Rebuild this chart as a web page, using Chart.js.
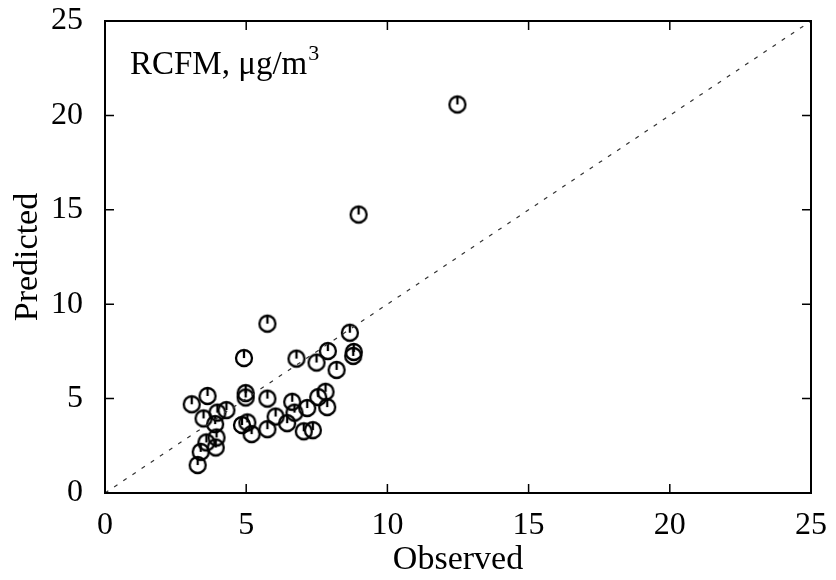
<!DOCTYPE html>
<html>
<head>
<meta charset="utf-8">
<script src="https://cdn.jsdelivr.net/npm/chart.js@4/dist/chart.umd.min.js"></script>
<style>
  html, body { margin: 0; padding: 0; background: #fff; }
  #wrap { width: 836px; height: 580px; }
</style>
</head>
<body>
<div id="wrap"><canvas id="scatter" width="836" height="580"></canvas></div>
<script>
// observed vs predicted values
const observed = [3.07, 3.63, 3.49, 3.98, 4.30, 3.90, 3.95, 3.92, 3.59, 3.39, 3.28,
    4.98, 4.98, 4.85, 5.04, 5.19, 5.75, 6.63, 7.16, 7.55, 7.81, 7.87, 5.75, 6.04,
    6.45, 6.71, 7.04, 7.36, 8.67, 8.81, 8.79, 7.89, 7.49, 8.20, 6.78, 5.75, 4.92,
    12.48, 8.98];
const predicted = [4.70, 5.14, 3.95, 4.26, 4.39, 3.65, 2.94, 2.41, 2.68, 2.18, 1.48,
    5.29, 5.06, 3.60, 3.74, 3.12, 5.00, 4.83, 4.50, 5.08, 5.36, 4.55, 3.38, 4.05,
    3.70, 4.26, 3.27, 3.33, 8.49, 7.47, 7.26, 7.52, 6.91, 6.52, 7.12, 8.97, 7.15,
    20.58, 14.75];
const oneToOne = [0, 25];
const tickValues = [0, 5, 10, 15, 20, 25];

const FONT = "'Liberation Serif', 'Times New Roman', serif";

// circle marker with a short stroke from centre to top
function makeMarker() {
    const c = document.createElement("canvas");
    c.width = 22;
    c.height = 22;
    const g = c.getContext("2d");
    g.strokeStyle = "#000";
    g.lineWidth = 2.3;
    g.beginPath();
    g.arc(11, 11, 8, 0, Math.PI * 2);
    g.stroke();
    g.beginPath();
    g.moveTo(11, 11);
    g.lineTo(11, 3.5);
    g.stroke();
    return c;
}

// box frame, inward ticks on all four sides and the label inside the plot
const framePlugin = {
    id: "frame",
    afterDraw(chart) {
        const { ctx, chartArea: a, scales } = chart;
        ctx.save();
        ctx.strokeStyle = "#000";
        ctx.lineWidth = 2;
        ctx.strokeRect(a.left, a.top, a.right - a.left, a.bottom - a.top);
        ctx.lineWidth = 1.5;
        const len = 9;
        tickValues.forEach(v => {
            const x = scales.x.getPixelForValue(v);
            const y = scales.y.getPixelForValue(v);
            ctx.beginPath();
            ctx.moveTo(x, a.bottom); ctx.lineTo(x, a.bottom - len);
            ctx.moveTo(x, a.top); ctx.lineTo(x, a.top + len);
            ctx.moveTo(a.left, y); ctx.lineTo(a.left + len, y);
            ctx.moveTo(a.right, y); ctx.lineTo(a.right - len, y);
            ctx.stroke();
        });

        ctx.fillStyle = "#000";
        ctx.textBaseline = "alphabetic";
        ctx.font = "33px " + FONT;
        const main = "RCFM, \u03bcg/m";
        const tx = a.left + 25;
        const ty = a.top + 53;
        ctx.fillText(main, tx, ty);
        const w = ctx.measureText(main).width;
        ctx.font = "22px " + FONT;
        ctx.fillText("3", tx + w + 1, ty - 14);
        ctx.restore();
    }
};

const ctx = document.getElementById("scatter").getContext("2d");

window.myChart = new Chart(ctx, {
    type: "scatter",
    data: {
        datasets: [
            {
                label: "1:1",
                type: "line",
                data: oneToOne.map(v => ({ x: v, y: v })),
                borderColor: "#333",
                borderWidth: 1.2,
                borderDash: [4, 7],
                pointRadius: 0,
                fill: false,
            },
            {
                label: "RCFM",
                data: observed.map((v, i) => ({ x: v, y: predicted[i] })),
                pointStyle: makeMarker(),
                pointRadius: 9,
            },
        ],
    },
    options: {
        responsive: false,
        animation: false,
        layout: {
            padding: { left: 0, top: 21, right: 25, bottom: 0 },
        },
        plugins: {
            legend: { display: false },
            tooltip: { enabled: false },
        },
        scales: {
            x: {
                type: "linear",
                min: 0,
                max: 25,
                afterFit: s => {
                    s.height = 87;
                    s.paddingLeft = 0;
                    s.paddingRight = 0;
                },
                grid: { display: false, drawTicks: false },
                border: { display: false },
                ticks: {
                    stepSize: 5,
                    padding: 13,
                    color: "#000",
                    font: { family: FONT, size: 32 },
                },
                title: {
                    display: true,
                    text: "Observed",
                    color: "#000",
                    font: { family: FONT, size: 34 },
                    padding: { top: 0, bottom: 0 },
                },
            },
            y: {
                type: "linear",
                min: 0,
                max: 25,
                afterFit: s => {
                    s.width = 105;
                    s.paddingTop = 0;
                    s.paddingBottom = 0;
                },
                grid: { display: false, drawTicks: false },
                border: { display: false },
                ticks: {
                    stepSize: 5,
                    padding: 22,
                    color: "#000",
                    font: { family: FONT, size: 32 },
                },
                title: {
                    display: true,
                    text: "Predicted",
                    color: "#000",
                    font: { family: FONT, size: 34 },
                    padding: { top: 8, bottom: 0 },
                },
            },
        },
    },
    plugins: [framePlugin],
});
</script>
</body>
</html>
